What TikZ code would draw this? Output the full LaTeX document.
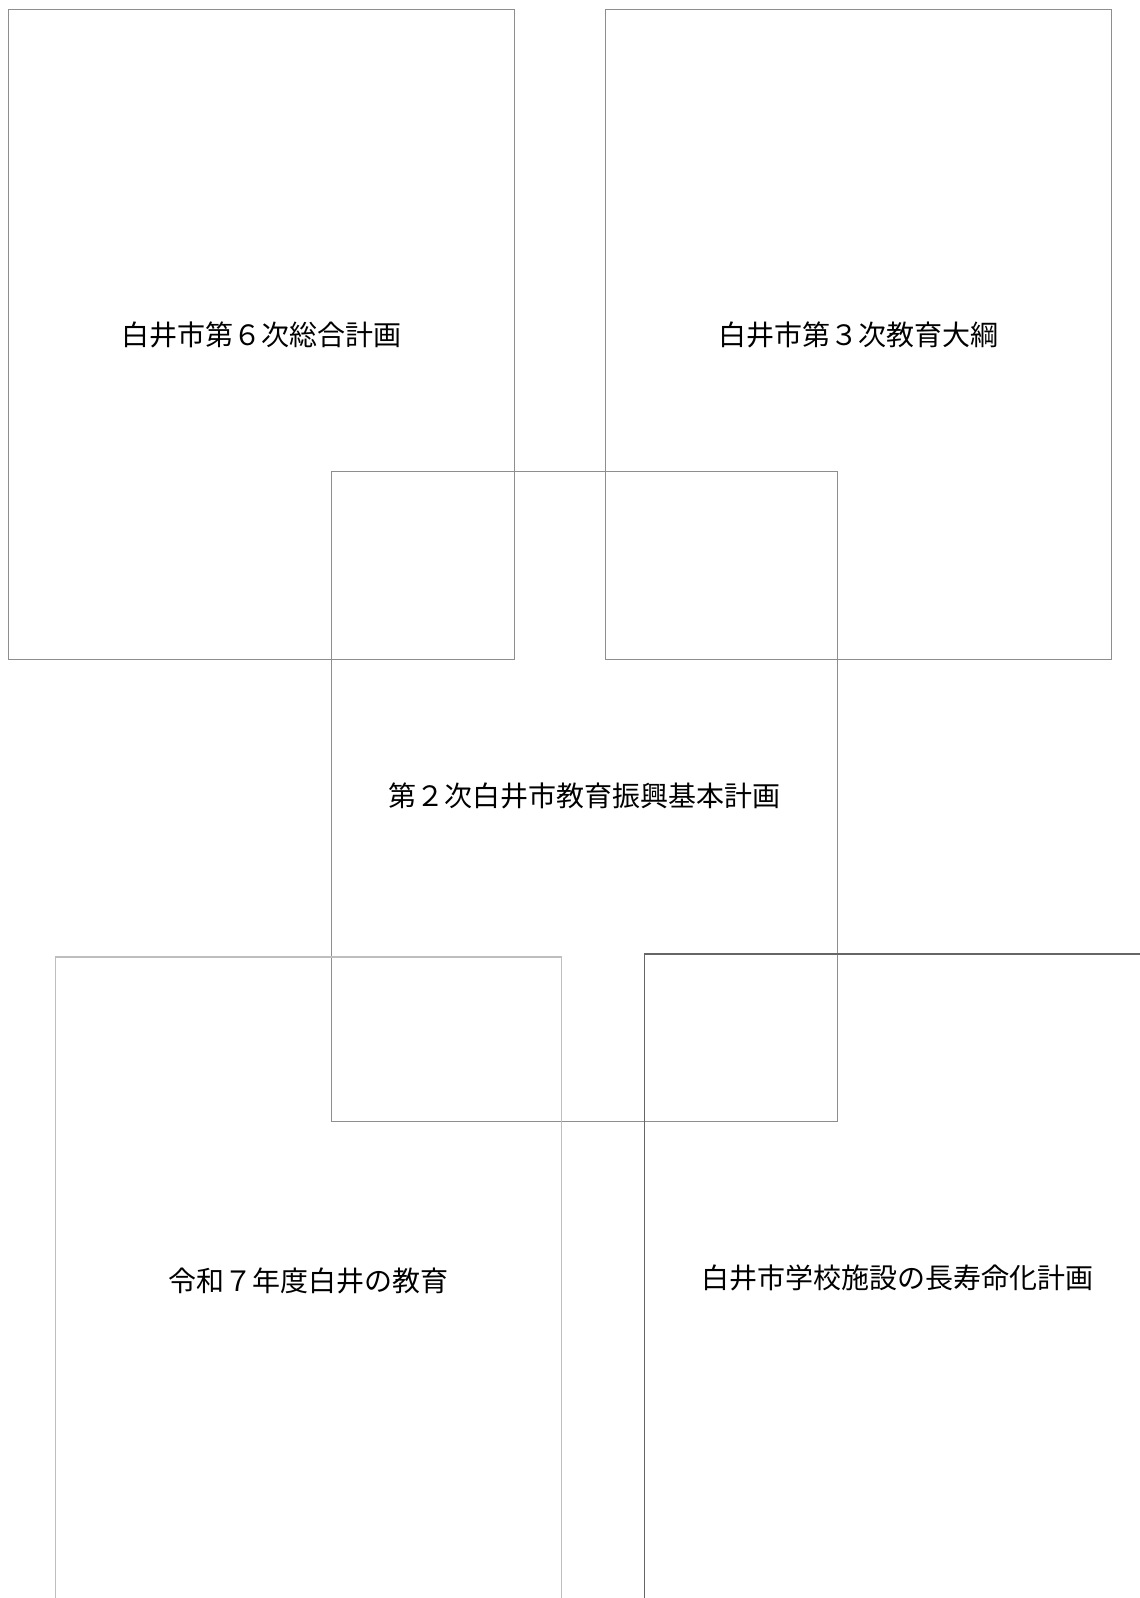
\documentclass[tikz,border=0pt]{standalone}
\usepackage{fontspec}
\newfontfamily\jpfont{Noto Sans CJK JP}
\definecolor{midgray}{HTML}{8E8E8E}
\definecolor{lightgray2}{HTML}{BEBEBE}
\definecolor{darkgray2}{HTML}{666666}
\begin{document}
\begin{tikzpicture}[x=1pt,y=-1pt,
  plan/.style={draw=midgray, line width=1.3pt, minimum width=506pt, minimum height=650pt, inner sep=0pt, outer sep=0pt,
    font=\jpfont\fontsize{28}{34}\selectfont, text=black}]
\useasboundingbox (0,0) rectangle (1140,1598);
\clip (0,0) rectangle (1140,1598);
\node[plan] (b1) at (261.2,334.5) {白井市第６次総合計画};
\node[plan] (b2) at (858.2,334.5) {白井市第３次教育大綱};
\node[plan] (b3) at (584.7,796.3) {第２次白井市教育振興基本計画};
\node[plan, draw=lightgray2, minimum height=648pt] (b4) at (308.7,1281) {令和７年度白井の教育};
\node[plan, draw=darkgray2, minimum height=648pt] (b5) at (897.5,1278) {白井市学校施設の長寿命化計画};
\end{tikzpicture}
\end{document}
